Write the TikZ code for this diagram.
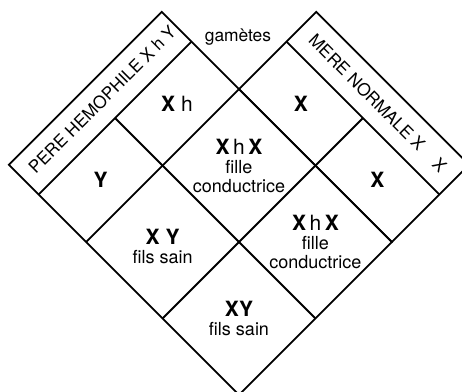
\documentclass[tikz,border=0pt]{standalone}
\usepackage{fontspec}
\setmainfont{TeX Gyre Heros}
\usetikzlibrary{positioning}

\newcommand{\gensize}{\fontsize{10.5}{11}\selectfont}
\newcommand{\gX}{\textbf{X}}
\newcommand{\gY}{\textbf{Y}}

\begin{document}
\begin{tikzpicture}[line width=0.9pt,
  gamete/.style={font=\gensize},
  child/.style={align=center,font=\fontsize{9}{9.5}\selectfont},
  parent/.style={font=\fontsize{8.6}{10}\selectfont}]
  \useasboundingbox (0,0) rectangle (231pt,-196pt);
  \clip (0,0) rectangle (231pt,-196pt);
  \node[font=\fontsize{8.7}{10}\selectfont] (gametes) at (119pt,-18.5pt) {gamètes};
  \begin{scope}[shift={(119.5pt,-121pt)},rotate=-45]
    % frame of the square and of the two parent bands
    \draw (-3.82,-1.9) rectangle (1.9,1.9);
    \draw (-1.9,1.9) rectangle (1.9,3.82);
    \draw (-3.08,-1.9) -- (-3.08,1.9);
    \draw (-1.9,-1.9) -- (-1.9,1.9);
    \draw (0,-1.9) -- (0,3.08);
    \draw (-3.08,0) -- (1.9,0);
    \draw (-1.9,3.08) -- (1.9,3.08);
    % parents
    \node[parent,rotate=45] (pere) at (-3.47,0.07) {PERE HEMOPHILE X h Y};
    \node[parent,rotate=-45] (mere) at (0,3.45) {MERE NORMALE X\hspace{1.1em}X};
    % gametes
    \node[gamete] (xh) at (-2.49,0.95) {\gX\hspace{3pt}h};
    \node[gamete] (y) at (-2.49,-0.95) {\gY};
    \node[gamete] (x1) at (-0.95,2.49) {\gX};
    \node[gamete] (x2) at (0.95,2.49) {\gX};
    % children
    \node[child] (fille1) at (-0.95,0.95)
      {{\gensize\gX\,h\,\gX}\\ fille\\ conductrice};
    \node[child] (fils1) at (-0.95,-0.95) [yshift=-2pt]
      {{\gensize\gX\hspace{3pt}\gY}\\ fils sain};
    \node[child] (fille2) at (0.95,0.95)
      {{\gensize\gX\,h\,\gX}\\ fille\\ conductrice};
    \node[child] (fils2) at (0.95,-0.95)
      {{\gensize\gX\gY}\\ fils sain};
  \end{scope}
\end{tikzpicture}
\end{document}
